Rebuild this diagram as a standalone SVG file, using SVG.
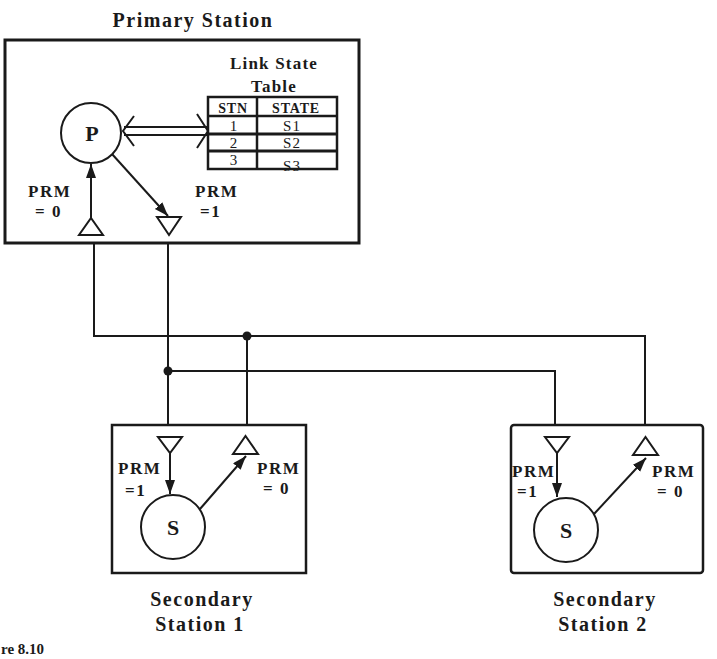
<svg xmlns="http://www.w3.org/2000/svg" width="717" height="659" viewBox="0 0 717 659">
<style>
.box{fill:none;stroke:#1a1a1a;stroke-width:2.5}
.ln{fill:none;stroke:#1a1a1a;stroke-width:2}
.arr{fill:none;stroke:#1a1a1a;stroke-width:2;marker-end:url(#ah)}
.tri{fill:#fff;stroke:#1a1a1a;stroke-width:2;stroke-linejoin:miter}
.circ{fill:#fff;stroke:#1a1a1a;stroke-width:2}
.dot{fill:#1a1a1a}
text{font-family:"Liberation Serif","Times New Roman",serif;fill:#1a1a1a}
.title{font-size:20px;font-weight:bold;letter-spacing:1.5px;text-anchor:middle}
.sub{font-size:17px;font-weight:bold;letter-spacing:1.2px;text-anchor:middle}
.lbl{font-size:17px;font-weight:bold;letter-spacing:1.5px}
.node{font-size:22px;font-weight:bold;text-anchor:middle}
.th{font-size:14px;font-weight:bold;letter-spacing:0.8px;text-anchor:middle}
.td{font-size:15px;letter-spacing:1px;text-anchor:middle}
</style>
<defs>
<marker id="ah" markerUnits="userSpaceOnUse" markerWidth="15" markerHeight="11" refX="14" refY="5" orient="auto">
<path d="M0,0 L14,5 L0,10 Z" fill="#1a1a1a"/>
</marker>
</defs>

<g id="primary">
<text class="title" x="193" y="27">Primary Station</text>
<rect class="box" x="5" y="40" width="354" height="203" style="stroke-width:3"/>
<text class="sub" x="274" y="69">Link State</text>
<text class="sub" x="274" y="92">Table</text>
<g id="table">
<rect class="box" x="208" y="97" width="129" height="72"/>
<line class="box" x1="257" y1="97" x2="257" y2="169"/>
<line class="box" x1="208" y1="116" x2="337" y2="116"/>
<line class="box" x1="208" y1="134" x2="337" y2="134" style="stroke-width:3"/>
<line class="box" x1="208" y1="151" x2="337" y2="151" style="stroke-width:3"/>
<text class="th" x="233" y="113">STN</text>
<text class="th" x="296" y="113">STATE</text>
<text class="td" x="234" y="131">1</text>
<text class="td" x="292" y="131">S1</text>
<text class="td" x="234" y="148">2</text>
<text class="td" x="292" y="148">S2</text>
<text class="td" x="234" y="165">3</text>
<text class="td" x="292" y="171">S3</text>
</g>
<circle class="circ" cx="91" cy="133" r="30"/>
<text class="node" x="92" y="141">P</text>
<line class="ln" x1="124" y1="127" x2="207" y2="127"/>
<line class="ln" x1="124" y1="135" x2="207" y2="135"/>
<polyline class="ln" points="134,116 123,131 134,146"/>
<polyline class="ln" points="197,114 208,131 197,148"/>
<line class="arr" x1="91" y1="218" x2="91" y2="164"/>
<line class="arr" x1="112" y1="154" x2="168" y2="216"/>
<polygon class="tri" points="79,235 103,235 91,218"/>
<polygon class="tri" points="157,217 181,217 169,235"/>
<text class="lbl" x="28" y="197">PRM</text>
<text class="lbl" x="35" y="217">= 0</text>
<text class="lbl" x="195" y="197">PRM</text>
<text class="lbl" x="200" y="217">=1</text>
</g>

<g id="secondary1">
<rect class="box" x="112" y="425" width="194" height="148"/>
<polygon class="tri" points="158,437 182,437 170,453"/>
<polygon class="tri" points="233,454 258,454 245.5,436"/>
<circle class="circ" cx="173" cy="527" r="32"/>
<text class="node" x="173" y="535">S</text>
<line class="arr" x1="170" y1="453" x2="170" y2="494"/>
<line class="arr" x1="200" y1="509" x2="246" y2="456"/>
<text class="lbl" x="118" y="474">PRM</text>
<text class="lbl" x="125" y="496">=1</text>
<text class="lbl" x="257" y="474">PRM</text>
<text class="lbl" x="263" y="494">= 0</text>
<text class="title" x="202" y="606">Secondary</text>
<text class="title" x="200" y="631">Station 1</text>
</g>

<g id="secondary2">
<rect class="box" x="511" y="425" width="192" height="148" rx="3"/>
<polygon class="tri" points="545,437 569,437 557,453"/>
<polygon class="tri" points="633,455 658,455 645.5,437"/>
<circle class="circ" cx="566" cy="530" r="32"/>
<text class="node" x="566" y="538">S</text>
<line class="arr" x1="557" y1="453" x2="557" y2="497"/>
<line class="arr" x1="594" y1="514" x2="646" y2="458"/>
<text class="lbl" x="512" y="477">PRM</text>
<text class="lbl" x="517" y="497">=1</text>
<text class="lbl" x="652" y="477">PRM</text>
<text class="lbl" x="657" y="497">= 0</text>
<text class="title" x="605" y="606">Secondary</text>
<text class="title" x="603" y="631">Station 2</text>
</g>

<g id="connectors">
<polyline class="ln" points="94,243 94,336 645,336 645,425"/>
<line class="ln" x1="168" y1="243" x2="168" y2="425"/>
<polyline class="ln" points="168,371 555,371 555,425"/>
<line class="ln" x1="247" y1="336" x2="247" y2="425"/>
<circle class="dot" cx="247" cy="336" r="4.5"/>
<circle class="dot" cx="168" cy="371" r="4.5"/>
</g>

<text x="1" y="654" style="font-size:15px;font-weight:bold">re 8.10</text>
</svg>
